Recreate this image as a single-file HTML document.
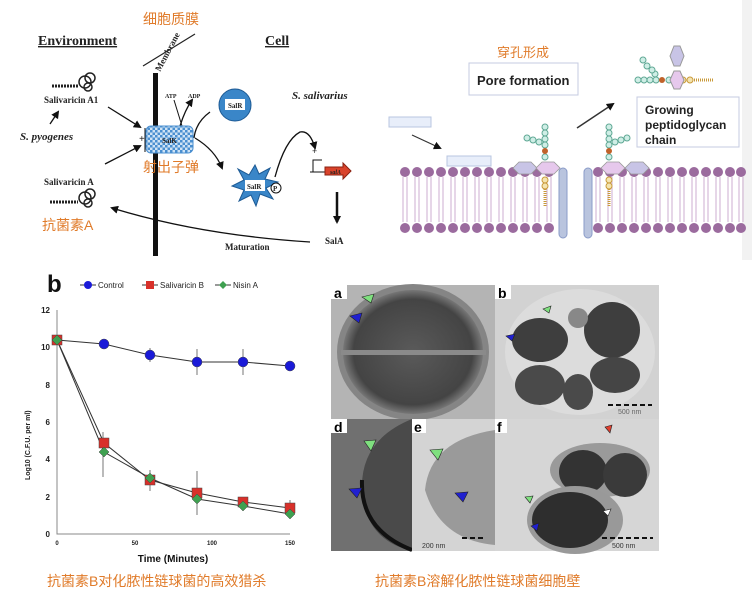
<!DOCTYPE html>
<html><head><meta charset="utf-8"><style>
html,body{margin:0;padding:0;background:#fff;}
svg{display:block;}
.cn{font-family:"Liberation Sans","Noto Sans CJK SC",sans-serif;fill:#e07b2a;}
.sf{font-family:"Liberation Serif",serif;font-weight:bold;fill:#222;}
.ss{font-family:"Liberation Sans",sans-serif;}
</style></head><body>
<svg width="752" height="600" viewBox="0 0 752 600" xmlns="http://www.w3.org/2000/svg">
<defs>
<pattern id="chk" width="5" height="5" patternUnits="userSpaceOnUse"><rect width="5" height="5" fill="#cfe3f5"/><rect width="2.5" height="2.5" fill="#4a8fd0"/><rect x="2.5" y="2.5" width="2.5" height="2.5" fill="#4a8fd0"/></pattern>
<radialGradient id="cell" cx="50%" cy="50%" r="50%"><stop offset="0" stop-color="#5a5a5a"/><stop offset="0.85" stop-color="#444"/><stop offset="1" stop-color="#777"/></radialGradient>
<marker id="ah" markerUnits="userSpaceOnUse" markerWidth="8" markerHeight="8" refX="6" refY="4" orient="auto"><path d="M0,0 L8,4 L0,8 z" fill="#111"/></marker>
</defs>

<!-- LEFT TOP DIAGRAM -->
<text x="143" y="24" class="cn" font-size="14">细胞质膜</text>
<text x="38" y="45" class="sf" font-size="14" text-decoration="underline">Environment</text>
<text x="265" y="45" class="sf" font-size="14" text-decoration="underline">Cell</text>
<line x1="143" y1="66" x2="195" y2="34" stroke="#222" stroke-width="1.2"/>
<text x="0" y="0" class="sf" font-size="9" transform="translate(160,72) rotate(-62)">Membrane</text>
<rect x="153" y="73" width="5" height="183" fill="#111"/>
<g fill="none" stroke="#222" stroke-width="1.5">
<path d="M52,86 L78,86" stroke-dasharray="2,1" stroke-width="3"/>
<circle cx="85" cy="82" r="6"/><circle cx="90" cy="78" r="5"/><circle cx="88" cy="87" r="4"/>
<path d="M50,202 L78,202" stroke-dasharray="2,1" stroke-width="3"/>
<circle cx="85" cy="198" r="6"/><circle cx="90" cy="194" r="5"/><circle cx="88" cy="203" r="4"/>
</g>
<text x="44" y="103" class="sf" font-size="9">Salivaricin A1</text>
<text x="20" y="140" class="sf" font-size="11" font-style="italic">S. pyogenes</text>
<text x="44" y="185" class="sf" font-size="9">Salivaricin A</text>
<text x="42" y="230" class="cn" font-size="14">抗菌素A</text>
<g stroke="#111" stroke-width="1.3" fill="none" marker-end="url(#ah)">
<line x1="50" y1="124" x2="58" y2="112"/>
<line x1="108" y1="107" x2="140" y2="127"/>
<line x1="105" y1="164" x2="140" y2="146"/>
<path d="M195,138 Q215,150 222,168"/>
<path d="M180,126 Q185,110 192,100"/>
<path d="M275,177 Q285,140 300,132 Q310,130 315,148"/>
<path d="M310,242 Q200,235 112,208"/>
</g>
<path d="M182,126 L174,100" stroke="#111" stroke-width="1" fill="none"/>
<path d="M210,112 Q196,122 194,138" stroke="#111" stroke-width="1.3" fill="none"/>
<line x1="337" y1="192" x2="337" y2="222" stroke="#111" stroke-width="2.5" marker-end="url(#ah)"/>
<text x="139" y="142" font-size="10" class="sf">+</text>
<line x1="145" y1="128" x2="145" y2="152" stroke="#111"/>
<rect x="146" y="126" width="47" height="27" rx="5" fill="url(#chk)" stroke="#4a8fd0"/>
<text x="162" y="143" class="sf" font-size="7">SalK</text>
<text x="165" y="98" class="sf" font-size="6">ATP</text>
<text x="188" y="98" class="sf" font-size="6">ADP</text>
<text x="143" y="172" class="cn" font-size="14">射出子弹</text>
<circle cx="235" cy="105" r="16" fill="#3a86c8" stroke="#1d5a94"/>
<rect x="225" y="99" width="20" height="11" fill="#fff"/>
<text x="228" y="108" class="sf" font-size="7">SalR</text>
<text x="292" y="99" class="sf" font-size="11" font-style="italic">S. salivarius</text>
<path d="M255,165 L259,174 L270,168 L265,179 L278,182 L266,188 L273,199 L260,194 L256,206 L251,195 L239,201 L244,190 L232,186 L244,180 L238,169 L249,175 Z" fill="#3a86c8" stroke="#1d5a94"/>
<rect x="245" y="180" width="20" height="11" fill="#fff"/>
<text x="247" y="189" class="sf" font-size="7">SalR</text>
<circle cx="276" cy="188" r="5" fill="#fff" stroke="#111"/><text x="273" y="191" font-size="7" class="sf">P</text>
<text x="312" y="154" class="sf" font-size="9">+</text>
<path d="M313,172 L313,160 L322,160" stroke="#111" fill="none"/>
<line x1="310" y1="172" x2="326" y2="172" stroke="#111"/>
<path d="M325,167 L343,167 L343,163 L351,171 L343,179 L343,175 L325,175 Z" fill="#d9432b" stroke="#8a2010"/>
<text x="330" y="174" font-size="6" class="sf" font-style="italic">salA</text>
<text x="225" y="250" class="sf" font-size="9">Maturation</text>
<text x="325" y="244" class="sf" font-size="9">SalA</text>

<!-- RIGHT TOP DIAGRAM -->
<rect x="742" y="0" width="10" height="260" fill="#f2f2f2"/>
<text x="497" y="57" class="cn" font-size="13">穿孔形成</text>
<rect x="469" y="63" width="109" height="32" fill="#fff" stroke="#c5cbe0"/>
<text x="477" y="85" class="ss" font-size="13" font-weight="bold" fill="#222">Pore formation</text>
<rect x="389" y="117" width="42" height="10" fill="#e8eefa" stroke="#b8c6e0"/>
<rect x="447" y="156" width="44" height="10" fill="#e8eefa" stroke="#b8c6e0"/>
<line x1="412" y1="135" x2="440" y2="148" stroke="#333" stroke-width="1.2" marker-end="url(#ah)"/>
<line x1="577" y1="128" x2="613" y2="104" stroke="#333" stroke-width="1.5" marker-end="url(#ah)"/>
<rect x="637" y="97" width="102" height="50" fill="#fff" stroke="#c5cbe0"/>
<text x="645" y="114" class="ss" font-size="12" font-weight="bold" fill="#222">Growing</text>
<text x="645" y="129" class="ss" font-size="12" font-weight="bold" fill="#222">peptidoglycan</text>
<text x="645" y="144" class="ss" font-size="12" font-weight="bold" fill="#222">chain</text>
<path d="M403,177 V222 M407,177 V222 M415,177 V222 M419,177 V222 M427,177 V222 M431,177 V222 M439,177 V222 M443,177 V222 M451,177 V222 M455,177 V222 M463,177 V222 M467,177 V222 M475,177 V222 M479,177 V222 M487,177 V222 M491,177 V222 M499,177 V222 M503,177 V222 M511,177 V222 M515,177 V222 M523,177 V222 M527,177 V222 M535,177 V222 M539,177 V222 M547,177 V222 M551,177 V222 M596,177 V222 M600,177 V222 M608,177 V222 M612,177 V222 M620,177 V222 M624,177 V222 M632,177 V222 M636,177 V222 M644,177 V222 M648,177 V222 M656,177 V222 M660,177 V222 M668,177 V222 M672,177 V222 M680,177 V222 M684,177 V222 M692,177 V222 M696,177 V222 M704,177 V222 M708,177 V222 M716,177 V222 M720,177 V222 M728,177 V222 M732,177 V222 M739,177 V222 M743,177 V222" stroke="#c9a6cc" stroke-width="0.9"/>
<g fill="#9b6b9e">
<circle cx="405" cy="172" r="5"/><circle cx="417" cy="172" r="5"/><circle cx="429" cy="172" r="5"/><circle cx="441" cy="172" r="5"/><circle cx="453" cy="172" r="5"/><circle cx="465" cy="172" r="5"/><circle cx="477" cy="172" r="5"/><circle cx="489" cy="172" r="5"/><circle cx="501" cy="172" r="5"/><circle cx="513" cy="172" r="5"/><circle cx="525" cy="172" r="5"/><circle cx="537" cy="172" r="5"/><circle cx="549" cy="172" r="5"/>
<circle cx="598" cy="172" r="5"/><circle cx="610" cy="172" r="5"/><circle cx="622" cy="172" r="5"/><circle cx="634" cy="172" r="5"/><circle cx="646" cy="172" r="5"/><circle cx="658" cy="172" r="5"/><circle cx="670" cy="172" r="5"/><circle cx="682" cy="172" r="5"/><circle cx="694" cy="172" r="5"/><circle cx="706" cy="172" r="5"/><circle cx="718" cy="172" r="5"/><circle cx="730" cy="172" r="5"/><circle cx="741" cy="172" r="5"/>
<circle cx="405" cy="228" r="5"/><circle cx="417" cy="228" r="5"/><circle cx="429" cy="228" r="5"/><circle cx="441" cy="228" r="5"/><circle cx="453" cy="228" r="5"/><circle cx="465" cy="228" r="5"/><circle cx="477" cy="228" r="5"/><circle cx="489" cy="228" r="5"/><circle cx="501" cy="228" r="5"/><circle cx="513" cy="228" r="5"/><circle cx="525" cy="228" r="5"/><circle cx="537" cy="228" r="5"/><circle cx="549" cy="228" r="5"/>
<circle cx="598" cy="228" r="5"/><circle cx="610" cy="228" r="5"/><circle cx="622" cy="228" r="5"/><circle cx="634" cy="228" r="5"/><circle cx="646" cy="228" r="5"/><circle cx="658" cy="228" r="5"/><circle cx="670" cy="228" r="5"/><circle cx="682" cy="228" r="5"/><circle cx="694" cy="228" r="5"/><circle cx="706" cy="228" r="5"/><circle cx="718" cy="228" r="5"/><circle cx="730" cy="228" r="5"/><circle cx="741" cy="228" r="5"/>
</g>
<rect x="559" y="168" width="8" height="70" rx="4" fill="#b9c4de" stroke="#8a9bc8"/>
<rect x="584" y="168" width="8" height="70" rx="4" fill="#b9c4de" stroke="#8a9bc8"/>
<g stroke="#999" stroke-width="0.8">
<polygon points="513,168 519,162 531,162 537,168 531,174 519,174" fill="#c8c4e6"/>
<polygon points="536,168 542,162 554,162 560,168 554,174 542,174" fill="#e6c8ec"/>
<polygon points="601,168 607,162 619,162 625,168 619,174 607,174" fill="#e6c8ec"/>
<polygon points="625,168 631,162 643,162 649,168 643,174 631,174" fill="#c8c4e6"/>
</g>
<g fill="#cfeee6" stroke="#5fa894" stroke-width="1">
<circle cx="545" cy="157" r="3"/><circle cx="545" cy="145" r="3"/><circle cx="545" cy="139" r="3"/><circle cx="545" cy="133" r="3"/><circle cx="545" cy="127" r="3"/><circle cx="539" cy="142" r="3"/><circle cx="533" cy="140" r="3"/><circle cx="527" cy="138" r="3"/>
<circle cx="609" cy="157" r="3"/><circle cx="609" cy="145" r="3"/><circle cx="609" cy="139" r="3"/><circle cx="609" cy="133" r="3"/><circle cx="609" cy="127" r="3"/><circle cx="615" cy="142" r="3"/><circle cx="621" cy="140" r="3"/><circle cx="627" cy="138" r="3"/>
<circle cx="638" cy="80" r="3"/><circle cx="644" cy="80" r="3"/><circle cx="650" cy="80" r="3"/><circle cx="656" cy="80" r="3"/><circle cx="655" cy="74" r="3"/><circle cx="643" cy="60" r="3"/><circle cx="647" cy="66" r="3"/><circle cx="652" cy="70" r="3"/><circle cx="669" cy="80" r="3"/>
</g>
<circle cx="545" cy="151" r="3" fill="#c0622a"/><circle cx="609" cy="151" r="3" fill="#c0622a"/><circle cx="662" cy="80" r="3" fill="#c0622a"/>
<g fill="#f4e4b0" stroke="#c99a3a"><circle cx="545" cy="180" r="3"/><circle cx="545" cy="186" r="3"/><circle cx="609" cy="180" r="3"/><circle cx="609" cy="186" r="3"/><circle cx="683" cy="80" r="3"/><circle cx="690" cy="80" r="3"/></g>
<path d="M545,189 l0,18" stroke="#c99a3a" stroke-dasharray="1,1" stroke-width="3"/>
<path d="M609,189 l0,18" stroke="#c99a3a" stroke-dasharray="1,1" stroke-width="3"/>
<path d="M694,80 l20,0" stroke="#c99a3a" stroke-dasharray="1,1" stroke-width="3"/>
<polygon points="670,80 674,71 680,71 684,80 680,89 674,89" fill="#e6c8ec" stroke="#999"/>
<polygon points="670,56 674,46 680,46 684,56 680,66 674,66" fill="#c8c4e6" stroke="#999"/>

<!-- CHART -->
<text x="47" y="292" class="ss" font-size="24" font-weight="bold" fill="#111">b</text>
<g class="ss" font-size="8" fill="#222">
<line x1="80" y1="285" x2="96" y2="285" stroke="#333"/><circle cx="88" cy="285" r="4" fill="#1a1ad8"/><text x="98" y="288">Control</text>
<line x1="142" y1="285" x2="158" y2="285" stroke="#333"/><rect x="146" y="281" width="8" height="8" fill="#d8302a"/><text x="160" y="288">Salivaricin B</text>
<line x1="215" y1="285" x2="231" y2="285" stroke="#333"/><path d="M223,281 l4,4 -4,4 -4,-4z" fill="#3fa050"/><text x="233" y="288">Nisin A</text>
</g>
<g stroke="#888" stroke-width="1" fill="none"><path d="M57,310 V534 H290"/></g>
<g class="ss" font-size="8" font-weight="bold" fill="#222" text-anchor="end">
<text x="50" y="313">12</text><text x="50" y="350">10</text><text x="50" y="388">8</text><text x="50" y="425">6</text><text x="50" y="462">4</text><text x="50" y="500">2</text><text x="50" y="537">0</text>
</g>
<g class="ss" font-size="6" font-weight="bold" fill="#222" text-anchor="middle">
<text x="57" y="545">0</text><text x="135" y="545">50</text><text x="212" y="545">100</text><text x="290" y="545">150</text>
</g>
<text x="173" y="562" class="ss" font-size="10" font-weight="bold" text-anchor="middle" fill="#111">Time (Minutes)</text>
<text x="0" y="0" class="ss" font-size="7" font-weight="bold" fill="#222" transform="translate(30,480) rotate(-90)">Log10 (C.F.U. per ml)</text>
<g stroke="#555" stroke-width="0.8">
<path d="M150,348 V362 M197,349 V375 M243,349 V375 M103,432 V452 M103,440 V477 M150,470 V491 M197,471 V515 M197,473 V512 M243,497 V507 M290,500 V514"/>
</g>
<polyline points="57,340 104,344 150,355 197,362 243,362 290,366" fill="none" stroke="#333"/>
<polyline points="57,340 104,443 150,480 197,493 243,502 290,508" fill="none" stroke="#333"/>
<polyline points="57,340 104,452 150,478 197,499 243,506 290,514" fill="none" stroke="#333"/>
<g fill="#1a1ad8" stroke="#444" stroke-width="0.5">
<circle cx="104" cy="344" r="5"/><circle cx="150" cy="355" r="5"/><circle cx="197" cy="362" r="5"/><circle cx="243" cy="362" r="5"/><circle cx="290" cy="366" r="5"/>
</g>
<g fill="#d8302a" stroke="#444" stroke-width="0.5">
<rect x="52" y="335" width="10" height="10"/><rect x="99" y="438" width="10" height="10"/><rect x="145" y="475" width="10" height="10"/><rect x="192" y="488" width="10" height="10"/><rect x="238" y="497" width="10" height="10"/><rect x="285" y="503" width="10" height="10"/>
</g>
<g fill="#3fa050" stroke="#444" stroke-width="0.5">
<path d="M57,335 l5,5 -5,5 -5,-5z M104,447 l5,5 -5,5 -5,-5z M150,473 l5,5 -5,5 -5,-5z M197,494 l5,5 -5,5 -5,-5z M243,501 l5,5 -5,5 -5,-5z M290,509 l5,5 -5,5 -5,-5z"/>
</g>
<text x="47" y="586" class="cn" font-size="14">抗菌素B对化脓性链球菌的高效猎杀</text>

<!-- MICROGRAPHS -->
<rect x="331" y="285" width="328" height="266" fill="#bdbdbd"/>
<rect x="331" y="285" width="164" height="134" fill="#b4b4b4"/>
<ellipse cx="413" cy="352" rx="76" ry="68" fill="#858585"/>
<ellipse cx="413" cy="352" rx="70" ry="62" fill="url(#cell)"/>
<rect x="341" y="350" width="145" height="5" fill="#8a8a8a"/>
<rect x="495" y="285" width="164" height="134" fill="#d2d2d2"/>
<ellipse cx="580" cy="352" rx="75" ry="63" fill="#dcdcdc"/>
<ellipse cx="540" cy="340" rx="28" ry="22" fill="#3e3e3e"/>
<ellipse cx="612" cy="330" rx="28" ry="28" fill="#3e3e3e"/>
<ellipse cx="540" cy="385" rx="25" ry="20" fill="#4a4a4a"/>
<ellipse cx="578" cy="392" rx="15" ry="18" fill="#4a4a4a"/>
<ellipse cx="615" cy="375" rx="25" ry="18" fill="#454545"/>
<ellipse cx="578" cy="318" rx="10" ry="10" fill="#888"/>
<rect x="331" y="419" width="81" height="132" fill="#707070"/>
<path d="M412,419 Q360,440 362,490 Q365,540 412,551 Z" fill="#4a4a4a"/>
<path d="M362,480 Q360,530 412,550" stroke="#111" stroke-width="4" fill="none"/>
<rect x="412" y="419" width="83" height="132" fill="#d4d4d4"/>
<path d="M495,430 Q430,440 425,490 Q440,540 495,545 Z" fill="#9a9a9a"/>
<rect x="495" y="419" width="164" height="132" fill="#d6d6d6"/>
<ellipse cx="600" cy="470" rx="50" ry="27" fill="#9a9a9a"/>
<ellipse cx="583" cy="472" rx="24" ry="22" fill="#333"/><ellipse cx="625" cy="475" rx="22" ry="22" fill="#3a3a3a"/>
<ellipse cx="575" cy="520" rx="48" ry="34" fill="#999"/>
<ellipse cx="570" cy="520" rx="38" ry="28" fill="#2e2e2e"/>
<rect x="331" y="285" width="16" height="14" fill="#fff"/><text x="334" y="298" class="ss" font-size="14" font-weight="bold">a</text>
<rect x="495" y="285" width="16" height="14" fill="#fff"/><text x="498" y="298" class="ss" font-size="14" font-weight="bold">b</text>
<rect x="331" y="419" width="16" height="14" fill="#fff"/><text x="334" y="432" class="ss" font-size="14" font-weight="bold">d</text>
<rect x="412" y="419" width="14" height="14" fill="#fff"/><text x="414" y="432" class="ss" font-size="14" font-weight="bold">e</text>
<rect x="495" y="419" width="12" height="14" fill="#fff"/><text x="497" y="432" class="ss" font-size="14" font-weight="bold">f</text>
<g stroke="#222" stroke-width="0.6">
<path d="M362,297 l12,-3 -3,9z" fill="#7fe07f"/><path d="M350,316 l12,-3 -3,10z" fill="#2020d0"/>
<path d="M543,309 l8,-3 -2,7z" fill="#7fe07f"/><path d="M506,336 l9,-2 -3,7z" fill="#2020d0"/>
<path d="M364,441 l12,-1 -5,11z" fill="#7fe07f"/><path d="M349,489 l13,-1 -5,10z" fill="#2020d0"/>
<path d="M430,450 l13,-1 -5,11z" fill="#7fe07f"/><path d="M455,493 l13,-1 -5,10z" fill="#2020d0"/>
<path d="M605,427 l7,-2 -2,8z" fill="#e04030"/><path d="M525,497 l8,-1 -3,7z" fill="#7fe07f"/>
<path d="M531,526 l8,-3 -2,8z" fill="#2020d0"/><path d="M603,511 l8,-2 -3,7z" fill="#fff"/>
</g>
<g stroke="#111" stroke-width="2" stroke-dasharray="5,3"><line x1="608" y1="405" x2="652" y2="405"/><line x1="462" y1="538" x2="485" y2="538"/><line x1="602" y1="538" x2="653" y2="538"/></g>
<text x="422" y="548" class="ss" font-size="7" fill="#333">200 nm</text>
<text x="612" y="548" class="ss" font-size="7" fill="#333">500 nm</text>
<text x="618" y="414" class="ss" font-size="7" fill="#666">500 nm</text>
<text x="375" y="586" class="cn" font-size="14">抗菌素B溶解化脓性链球菌细胞壁</text>
</svg>
</body></html>
